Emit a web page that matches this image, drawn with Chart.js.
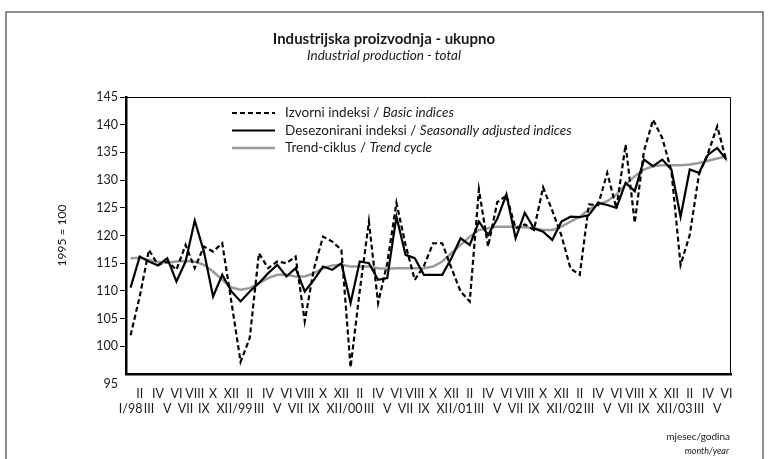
<!DOCTYPE html>
<html>
<head>
<meta charset="utf-8">
<script src="https://cdn.jsdelivr.net/npm/chart.js@4.4.1/dist/chart.umd.min.js"></script>
<style>
html, body { margin: 0; padding: 0; background: #fff; }
#chart { display: block; }
</style>
</head>
<body>
<canvas id="chart" width="768" height="459"></canvas>
<script>
// Month / year labels (I/98 ... VI/03)
var months = ['I', 'II', 'III', 'IV', 'V', 'VI', 'VII', 'VIII', 'IX', 'X', 'XI', 'XII'];
var years = ['98', '99', '00', '01', '02', '03'];

// Izvorni indeksi / Basic indices
var basicIdx = [
    102.0, 109.0, 117.4, 114.7, 115.3, 113.8, 118.3, 114.1, 118.0, 117.1, 118.6, 108.0,
    97.2, 101.5, 116.8, 114.1, 115.3, 115.0, 116.2, 104.5, 114.0, 119.8, 118.9, 117.4,
    96.2, 110.0, 122.5, 107.8, 115.0, 125.9, 118.3, 112.0, 114.5, 118.6, 118.6, 114.1,
    109.9, 108.1, 128.3, 118.0, 126.0, 127.2, 121.3, 122.0, 121.0, 128.7, 124.5, 120.0,
    114.0, 112.9, 125.6, 125.5, 131.3, 124.9, 136.4, 122.3, 135.2, 140.9, 137.6, 131.6,
    114.7, 120.1, 131.0, 134.9, 139.7, 133.4
];

// Desezonirani indeksi / Seasonally adjusted indices
var seasonalIdx = [
    110.6, 116.2, 115.3, 114.6, 115.9, 111.7, 115.3, 122.7, 117.1, 109.0, 112.9, 109.9,
    108.1, 109.9, 111.4, 113.2, 114.7, 112.6, 114.1, 109.9, 112.0, 114.4, 113.8, 115.0,
    107.8, 115.3, 115.0, 112.0, 112.3, 123.4, 116.5, 115.9, 112.9, 112.9, 112.9, 115.9,
    119.5, 118.3, 122.5, 120.1, 123.0, 127.4, 119.5, 124.1, 121.3, 120.7, 119.2, 122.5,
    123.4, 123.3, 123.7, 125.9, 125.5, 125.0, 129.5, 128.0, 133.7, 132.5, 133.7, 131.9,
    123.4, 131.9, 131.3, 134.6, 135.8, 133.7
];

// Trend-ciklus / Trend cycle
var trendIdx = [
    115.9, 116.0, 115.6, 115.2, 115.1, 115.3, 115.4, 115.3, 114.7, 113.5, 112.0, 110.6,
    110.2, 110.5, 111.4, 112.3, 112.9, 112.9, 112.6, 112.6, 113.2, 114.1, 114.6, 114.7,
    114.4, 114.4, 114.4, 114.1, 114.0, 114.1, 114.1, 114.1, 114.1, 114.4, 115.3, 116.8,
    118.3, 119.8, 121.0, 121.3, 121.6, 121.6, 121.6, 121.5, 121.3, 121.0, 121.0, 121.6,
    122.5, 123.4, 124.7, 125.6, 126.2, 127.4, 129.2, 130.7, 131.9, 132.5, 132.7, 132.7,
    132.7, 132.8, 133.1, 133.5, 133.9, 134.3
];

var seriesNames = ['Izvorni indeksi / ', 'Desezonirani indeksi / ', 'Trend-ciklus / '];
var seriesNamesEn = ['Basic indices', 'Seasonally adjusted indices', 'Trend cycle'];

var yMin = 95, yMax = 145, yStep = 5;

var FONT = 'Lato, "Open Sans", sans-serif';
var INK = '#1a1a1a';

var labels = [];
years.forEach(function(y) {
    months.forEach(function(m, k) { labels.push(k === 0 ? 'I/' + y : m); });
});
labels = labels.slice(0, basicIdx.length);

// Titles, frame, legend and the odd "95" label
var decor = {
    id: 'decor',
    beforeDraw: function(chart) {
        var ctx = chart.ctx;
        ctx.save();
        ctx.fillStyle = '#fff';
        ctx.fillRect(0, 0, chart.width, chart.height);
        ctx.strokeStyle = '#444';
        ctx.lineWidth = 1.2;
        ctx.strokeRect(6, 12, chart.width - 11, chart.height + 20);
        ctx.restore();
    },
    afterDraw: function(chart) {
        var ctx = chart.ctx, a = chart.chartArea;
        var yScale = chart.scales.y;
        ctx.save();

        // top / right edge of plot box
        ctx.strokeStyle = '#000';
        ctx.lineWidth = 1;
        ctx.beginPath();
        ctx.moveTo(a.left, a.top + 0.5);
        ctx.lineTo(a.right - 0.5, a.top + 0.5);
        ctx.lineTo(a.right - 0.5, a.bottom);
        ctx.stroke();

        ctx.fillStyle = INK;
        ctx.textAlign = 'center';
        ctx.textBaseline = 'middle';
        ctx.font = 'bold 15px ' + FONT;
        ctx.fillText('Industrijska proizvodnja - ukupno', chart.width / 2, 39);
        ctx.font = 'italic 13.5px ' + FONT;
        ctx.fillText('Industrial production - total', chart.width / 2, 56);

        // y axis title
        ctx.save();
        ctx.translate(62, (a.top + a.bottom) / 2);
        ctx.rotate(-Math.PI / 2);
        ctx.font = '12px ' + FONT;
        ctx.fillText('1995 = 100', 0, 0);
        ctx.restore();

        // bottom value label sits a little under the axis
        ctx.textAlign = 'right';
        ctx.font = '12.5px ' + FONT;
        ctx.fillText(String(yMin), a.left - 8, yScale.getPixelForValue(yMin) + 10);

        // legend
        var lx = a.left + 106, ly = a.top + 16;
        chart.data.datasets.forEach(function(ds, i) {
            var y = ly + i * 17.5;
            ctx.save();
            ctx.strokeStyle = ds.borderColor;
            ctx.lineWidth = ds.borderWidth;
            ctx.setLineDash(ds.borderDash || []);
            ctx.beginPath();
            ctx.moveTo(lx, y);
            ctx.lineTo(lx + 43, y);
            ctx.stroke();
            ctx.restore();
            ctx.textAlign = 'left';
            ctx.font = '13.5px ' + FONT;
            ctx.fillText(seriesNames[i], lx + 53, y);
            var w = ctx.measureText(seriesNames[i]).width;
            ctx.font = 'italic 13.5px ' + FONT;
            ctx.fillText(seriesNamesEn[i], lx + 53 + w, y);
        });

        // x axis caption
        ctx.textAlign = 'right';
        ctx.font = '10px ' + FONT;
        ctx.fillText('mjesec/godina', a.right - 1, 437);
        ctx.font = 'italic 9px ' + FONT;
        ctx.fillText('month/year', a.right - 2, 451);

        ctx.restore();
    }
};

new Chart(document.getElementById('chart'), {
    type: 'line',
    data: {
        labels: labels,
        datasets: [
            {
                label: seriesNames[0] + seriesNamesEn[0],
                data: basicIdx,
                borderColor: '#000',
                borderWidth: 2.2,
                borderDash: [5, 3]
            },
            {
                label: seriesNames[1] + seriesNamesEn[1],
                data: seasonalIdx,
                borderColor: '#000',
                borderWidth: 2.2
            },
            {
                label: seriesNames[2] + seriesNamesEn[2],
                data: trendIdx,
                borderColor: '#9a9a9a',
                borderWidth: 2.5
            }
        ]
    },
    options: {
        responsive: false,
        animation: false,
        layout: { padding: { left: 0, right: 37, top: 97, bottom: 0 } },
        elements: {
            point: { radius: 0 },
            line: { tension: 0, fill: false, borderJoinStyle: 'miter' }
        },
        plugins: {
            legend: { display: false },
            tooltip: { enabled: false }
        },
        scales: {
            x: {
                type: 'category',
                offset: true,
                grid: { display: false, drawTicks: false },
                border: { display: true, color: '#000', width: 2.5 },
                ticks: {
                    autoSkip: false,
                    maxRotation: 0,
                    padding: 12,
                    color: INK,
                    font: { family: FONT, size: 12.5, lineHeight: 1.25 },
                    callback: function(value, index) {
                        var lab = this.getLabelForValue(value);
                        return index % 2 === 1 ? [lab, ''] : ['', lab];
                    }
                },
                afterFit: function(scale) { scale.height = 85; }
            },
            y: {
                min: yMin,
                max: yMax,
                grid: {
                    drawOnChartArea: false,
                    drawTicks: true,
                    tickLength: 6,
                    lineWidth: 1,
                    color: function(c) { return c.tick && c.tick.value === yMin ? 'rgba(0,0,0,0)' : '#000'; }
                },
                border: { display: true, color: '#000', width: 2.5 },
                ticks: {
                    stepSize: yStep,
                    padding: 2,
                    color: INK,
                    font: { family: FONT, size: 12.5 },
                    callback: function(v) { return v === yMin ? '' : v; }
                },
                afterFit: function(scale) { scale.width = 126; }
            }
        }
    },
    plugins: [decor]
});
</script>
</body>
</html>
